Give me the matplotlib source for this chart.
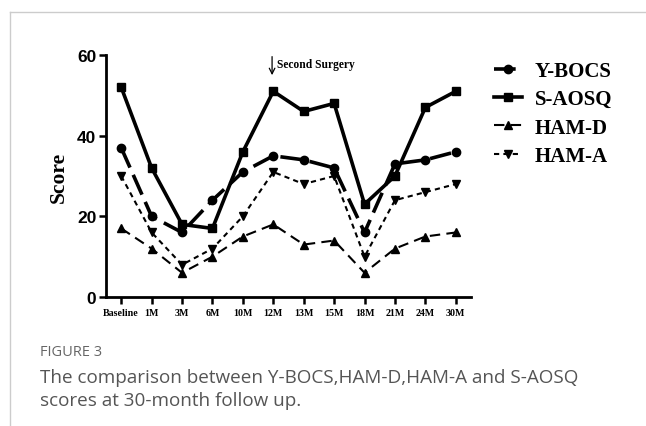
import matplotlib
matplotlib.use("Agg")
import matplotlib.pyplot as plt
from matplotlib.lines import Line2D

categories = ["Baseline", "1M", "3M", "6M", "10M", "12M", "13M", "15M", "18M", "21M", "24M", "30M"]
ybocs = [37, 20, 16, 24, 31, 35, 34, 32, 16, 33, 34, 36]
saosq = [52, 32, 18, 17, 36, 51, 46, 48, 23, 30, 47, 51]
hamd = [17, 12, 6, 10, 15, 18, 13, 14, 6, 12, 15, 16]
hama = [30, 16, 8, 12, 20, 31, 28, 30, 10, 24, 26, 28]
y_ticks = [0, 20, 40, 60]

W, H = 646, 427
fig = plt.figure(figsize=(W / 100, H / 100), dpi=100)
fig.patch.set_facecolor("white")

# frame lines
fig.add_artist(Line2D([9.5 / W, 9.5 / W], [0, 1 - 13 / H], transform=fig.transFigure, color="#cccccc", lw=1))
fig.add_artist(Line2D([9.5 / W, 1], [1 - 13 / H, 1 - 13 / H], transform=fig.transFigure, color="#cccccc", lw=1))

ax = fig.add_axes([106 / W, 1 - 298 / H, (471 - 106) / W, (298 - 56) / H])
x = list(range(len(categories)))

serif = "Liberation Serif"
ax.plot(x, ybocs, color="black", lw=2.6, dashes=(6, 2.2), marker="o", ms=6, label="Y-BOCS")
ax.plot(x, saosq, color="black", lw=2.6, marker="s", ms=6, label="S-AOSQ")
ax.plot(x, hamd, color="black", lw=1.5, dashes=(5, 3), marker="^", ms=5.5, label="HAM-D")
ax.plot(x, hama, color="black", lw=1.5, dashes=(2.5, 2), marker="v", ms=5.5, label="HAM-A")

ax.set_xlim(-0.5, len(categories) - 0.5)
ax.set_ylim(0, 60)
ax.set_yticks(y_ticks)
ax.set_yticklabels([str(v) for v in y_ticks], fontfamily="Liberation Sans", fontweight="bold", fontsize=12.5)
ax.set_xticks(x)
ax.set_xticklabels(categories, fontfamily=serif, fontweight="bold", fontsize=7.2)
for s in ["top", "right"]:
    ax.spines[s].set_visible(False)
for s in ["left", "bottom"]:
    ax.spines[s].set_linewidth(2)
ax.tick_params(axis="both", width=1.8, length=5, direction="out")
ax.tick_params(axis="x", pad=3)
ax.tick_params(axis="y", pad=2)
ax.set_ylabel("Score", fontfamily=serif, fontweight="bold", fontsize=15.5, labelpad=6)

ax.annotate("", xy=(4.96, 55.0), xytext=(4.96, 59.6),
            arrowprops=dict(arrowstyle="->", lw=0.9, color="black", shrinkA=0, shrinkB=0),
            annotation_clip=False)
ax.text(5.12, 57.8, "Second Surgery", fontfamily=serif, fontweight="bold", fontsize=8.3, va="center", ha="left")

leg = fig.legend(loc="upper left", bbox_to_anchor=(494 / W, 1 - 62 / H), frameon=False,
                 prop=dict(family=serif, weight="bold", size=15), handlelength=1.35,
                 labelspacing=0.4, handletextpad=0.6, borderaxespad=0, borderpad=0)

fig.text(40 / W, 1 - 352 / H, "FIGURE 3", fontfamily="Open Sans", fontsize=10.5, color="#666666", va="center")
fig.text(40 / W, 1 - 378 / H, "The comparison between Y-BOCS,HAM-D,HAM-A and S-AOSQ",
         fontfamily="Open Sans", fontsize=13.6, color="#555555", va="center")
fig.text(40 / W, 1 - 401 / H, "scores at 30-month follow up.",
         fontfamily="Open Sans", fontsize=13.6, color="#555555", va="center")

fig.savefig("out.png", dpi=100)
